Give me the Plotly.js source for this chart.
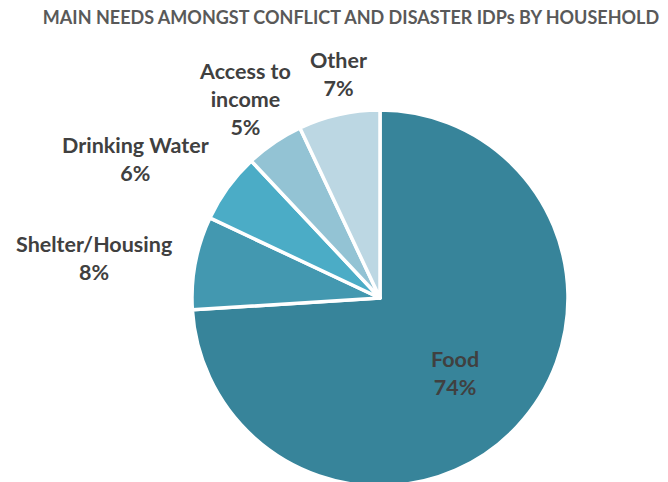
<!DOCTYPE html>
<html><head><meta charset="utf-8">
<script src="https://cdn.plot.ly/plotly-3.0.1.min.js"></script>
<style>html,body{margin:0;padding:0;overflow:hidden;background:#fff}#chart{width:668px;height:490px}</style>
</head><body><div id="chart"></div>
<script>
var categories = ["Food", "Shelter/Housing", "Drinking Water", "Access to<br>income", "Other"];
var values = [74, 8, 6, 5, 7];
var colors = ["#37849a", "#4398b0", "#4bacc6", "#93c3d4", "#bcd7e3"];
var chartTitle = "MAIN NEEDS AMONGST CONFLICT AND DISASTER IDPs BY HOUSEHOLD";

var W = 668, H = 490;
var cx = 380, cy = 298, r = 188;

var labelPos = [[455, 373], [94, 258], [135, 159], [245, 99], [338, 74]];

var annotations = categories.map(function(c, i) {
  return {
    text: c + "<br>" + values[i] + "%",
    x: labelPos[i][0] / W, y: 1 - labelPos[i][1] / H,
    xref: "paper", yref: "paper", showarrow: false,
    xanchor: "center", yanchor: "middle",
    font: {family: "Lato, 'Open Sans', sans-serif", size: 21.5, color: "#404040", weight: "bold"}
  };
});

var trace = {
  type: "pie",
  labels: categories,
  values: values,
  sort: false,
  direction: "clockwise",
  rotation: 0,
  textinfo: "none",
  hoverinfo: "label+percent",
  marker: {colors: colors, line: {color: "#ffffff", width: 3.5}},
  domain: {x: [(cx - r) / W, (cx + r) / W], y: [1 - (cy + r) / H, 1 - (cy - r) / H]},
  showlegend: false
};

var layout = {
  width: W, height: H,
  margin: {l: 0, r: 0, t: 0, b: 0},
  paper_bgcolor: "#ffffff",
  title: {text: chartTitle, x: 351 / W, xanchor: "center", y: 1 - 18 / H, yanchor: "middle",
    font: {family: "Lato, 'Open Sans', sans-serif", size: 18, color: "#595959", weight: "bold"}},
  annotations: annotations
};

Plotly.newPlot("chart", [trace], layout, {displayModeBar: false, staticPlot: true});
</script></body></html>
